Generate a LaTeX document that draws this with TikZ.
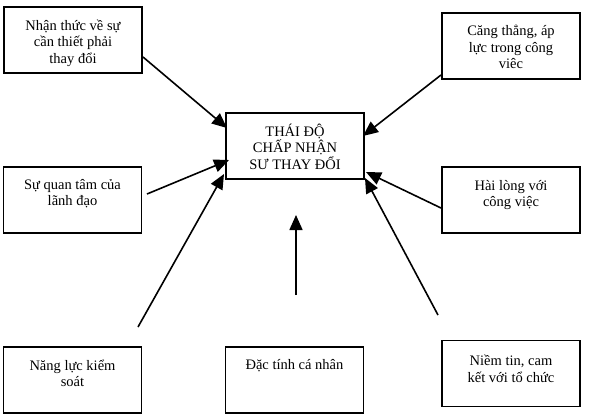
\documentclass[tikz,border=0pt]{standalone}
\usepackage{fontspec}
\setmainfont{Liberation Serif}
\usetikzlibrary{arrows.meta}
\tikzset{
  box/.style={draw=black, line width=1.9pt, minimum width=138pt, minimum height=66pt, inner sep=0pt},
  txt/.style={align=center, inner sep=0pt, anchor=base, font=\fontsize{14.5}{16.5}\selectfont},
  arr/.style={line width=1.6pt, -{Triangle[length=15pt,width=13pt]}},
}
\begin{document}
\begin{tikzpicture}[x=1pt,y=-1pt]
\useasboundingbox (0,0) rectangle (589,415);
% boxes
\node[box] (b1) at (73,40) {};
\node[box] (c)  at (295,146) {};
\node[box] (b2) at (511,46) {};
\node[box] (b3) at (72.5,200) {};
\node[box] (b4) at (511,200) {};
\node[box] (b5) at (72.5,380) {};
\node[box] (b6) at (294.5,380) {};
\node[box] (b7) at (511,373.5) {};
% texts (anchored at the baseline of the last line)
\node[txt] (t1) at ([yshift=-57pt]b1.north) {Nhận thức về sự\\cần thiết phải\\thay đổi};
\node[txt] (tc) at ([yshift=-57pt]c.north) {THÁI ĐỘ\\CHẤP NHẬN\\SƯ THAY ĐỔI};
\node[txt] (t2) at ([yshift=-56.5pt]b2.north) {Căng thẳng, áp\\lực trong công\\viêc};
\node[txt] (t3) at ([yshift=-39.5pt]b3.north) {Sự quan tâm của\\lãnh đạo};
\node[txt] (t4) at ([yshift=-40.5pt]b4.north) {Hài lòng với\\công việc};
\node[txt] (t5) at ([yshift=-40.5pt]b5.north) {Năng lực kiểm\\soát};
\node[txt] (t6) at ([yshift=-23.5pt]b6.north) {Đặc tính cá nhân};
\node[txt] (t7) at ([yshift=-42.5pt]b7.north) {Niềm tin, cam\\kết với tổ chức};
% connector end points
\coordinate (s1) at (143,57);   \coordinate (e1) at (227,128);
\coordinate (s3) at (147,194);  \coordinate (e3) at (229,160);
\coordinate (s5) at (138,327);  \coordinate (e5) at (224,174);
\coordinate (s6) at (296,295);  \coordinate (e6) at (296,215);
\coordinate (s2) at (441,75);   \coordinate (e2) at (363,136);
\coordinate (s4) at (441,208);  \coordinate (e4) at (366,172);
\coordinate (s7) at (438,315);  \coordinate (e7) at (365,178);
% connectors
\draw[arr] (s1) -- (e1);
\draw[arr] (s3) -- (e3);
\draw[arr] (s5) -- (e5);
\draw[arr] (s6) -- (e6);
\draw[arr] (s2) -- (e2);
\draw[arr] (s4) -- (e4);
\draw[arr] (s7) -- (e7);
\end{tikzpicture}
\end{document}
